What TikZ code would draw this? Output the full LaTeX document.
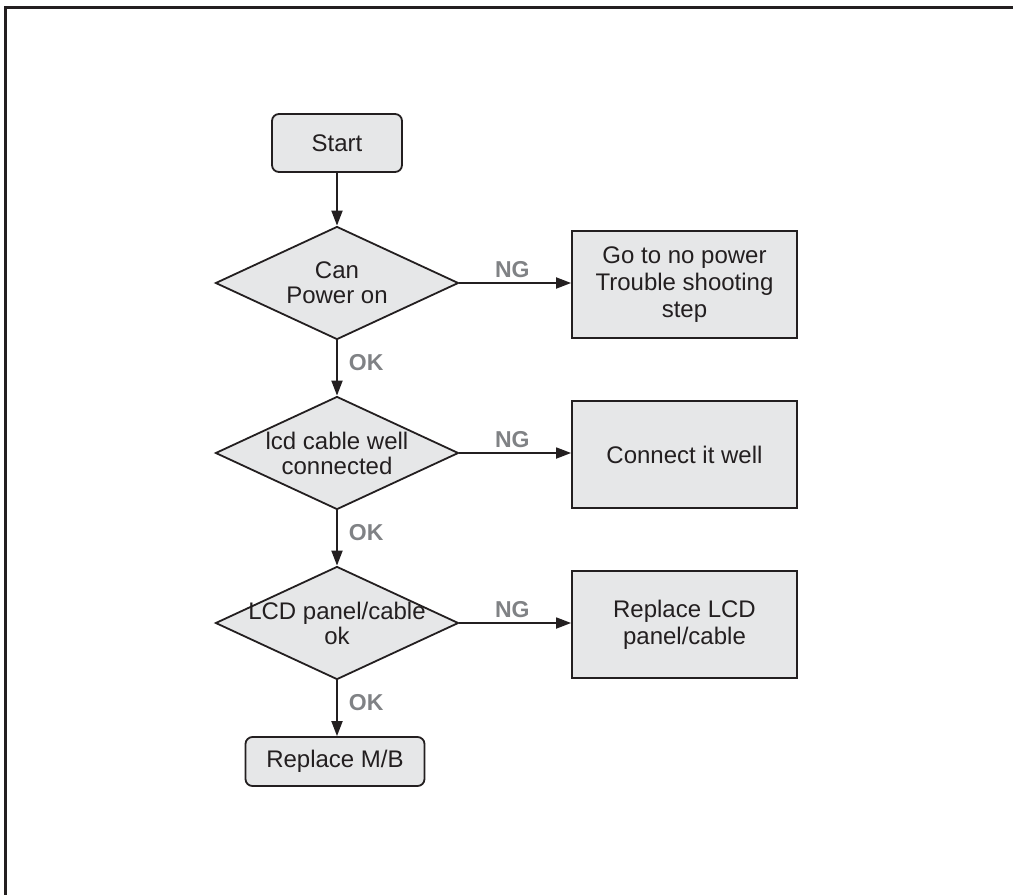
\documentclass[tikz,border=0pt]{standalone}
\usepackage{fontspec}
\setmainfont{Liberation Sans}
\usepackage{tikz}
\usetikzlibrary{arrows.meta, positioning, shapes.geometric}

\definecolor{ink}{HTML}{231F20}
\definecolor{boxfill}{HTML}{E6E7E8}
\definecolor{lblgray}{HTML}{808285}

\begin{document}
\begin{tikzpicture}[
    x=1pt, y=-1pt,
    every node/.style={font=\fontsize{24}{27}\selectfont, text=ink},
    term/.style={draw=ink, line width=1.8pt, fill=boxfill, rounded corners=7pt, align=center},
    decision/.style={draw=ink, line width=1.8pt, fill=boxfill, diamond, inner sep=0pt, minimum width=243pt, minimum height=113pt},
    dtext/.style={align=center, inner sep=0pt, font=\fontsize{24}{25}\selectfont, text=ink},
    action/.style={draw=ink, line width=1.8pt, fill=boxfill, minimum width=225pt, minimum height=107pt, align=center},
    arrow/.style={-{Triangle[length=15pt, width=11pt]}, line width=1.8pt, draw=ink},
    lbl/.style={font=\fontsize{23}{25}\selectfont\bfseries, text=lblgray, inner sep=4pt}
]
\useasboundingbox (0,0) rectangle (1013,895);

% Cadre
\draw[line width=3pt, ink] (5.5,895) -- (5.5,7) -- (1013,7);

% Start
\node[term, minimum width=130pt, minimum height=58pt] (start) at (337,143) {Start};

% Decisions
\node[decision, label={[dtext]center:Can\\Power on}] (power) at (337,283) {};
\node[decision, label={[dtext]center:lcd cable well\\connected}] (cable) at (337,453) {};
\node[decision, label={[dtext]center:LCD panel/cable\\ok}] (panel) at (337,623) {};

% Actions
\node[action] (nopower) at (684.5,284.5) {Go to no power\\Trouble shooting\\step};
\node[action] (connect) at (684.5,454.5) {Connect it well};
\node[action] (lcd) at (684.5,624.5) {Replace LCD\\panel/cable};

% End
\node[term, minimum width=179pt, minimum height=49pt] (mb) at (335,761.5) {Replace M/B};

% Flux
\draw[arrow] (start) -- (power);
\draw[arrow] (power) -- node[lbl, pos=0.4, right=7pt] {OK} (cable);
\draw[arrow] (cable) -- node[lbl, pos=0.4, right=7pt] {OK} (panel);
\draw[arrow] (panel) -- node[lbl, pos=0.4, right=7pt] {OK} (mb.north -| panel);

\draw[arrow] (power) -- node[lbl, above, xshift=-3pt] {NG} (nopower.west |- power);
\draw[arrow] (cable) -- node[lbl, above, xshift=-3pt] {NG} (connect.west |- cable);
\draw[arrow] (panel) -- node[lbl, above, xshift=-3pt] {NG} (lcd.west |- panel);

\end{tikzpicture}
\end{document}
